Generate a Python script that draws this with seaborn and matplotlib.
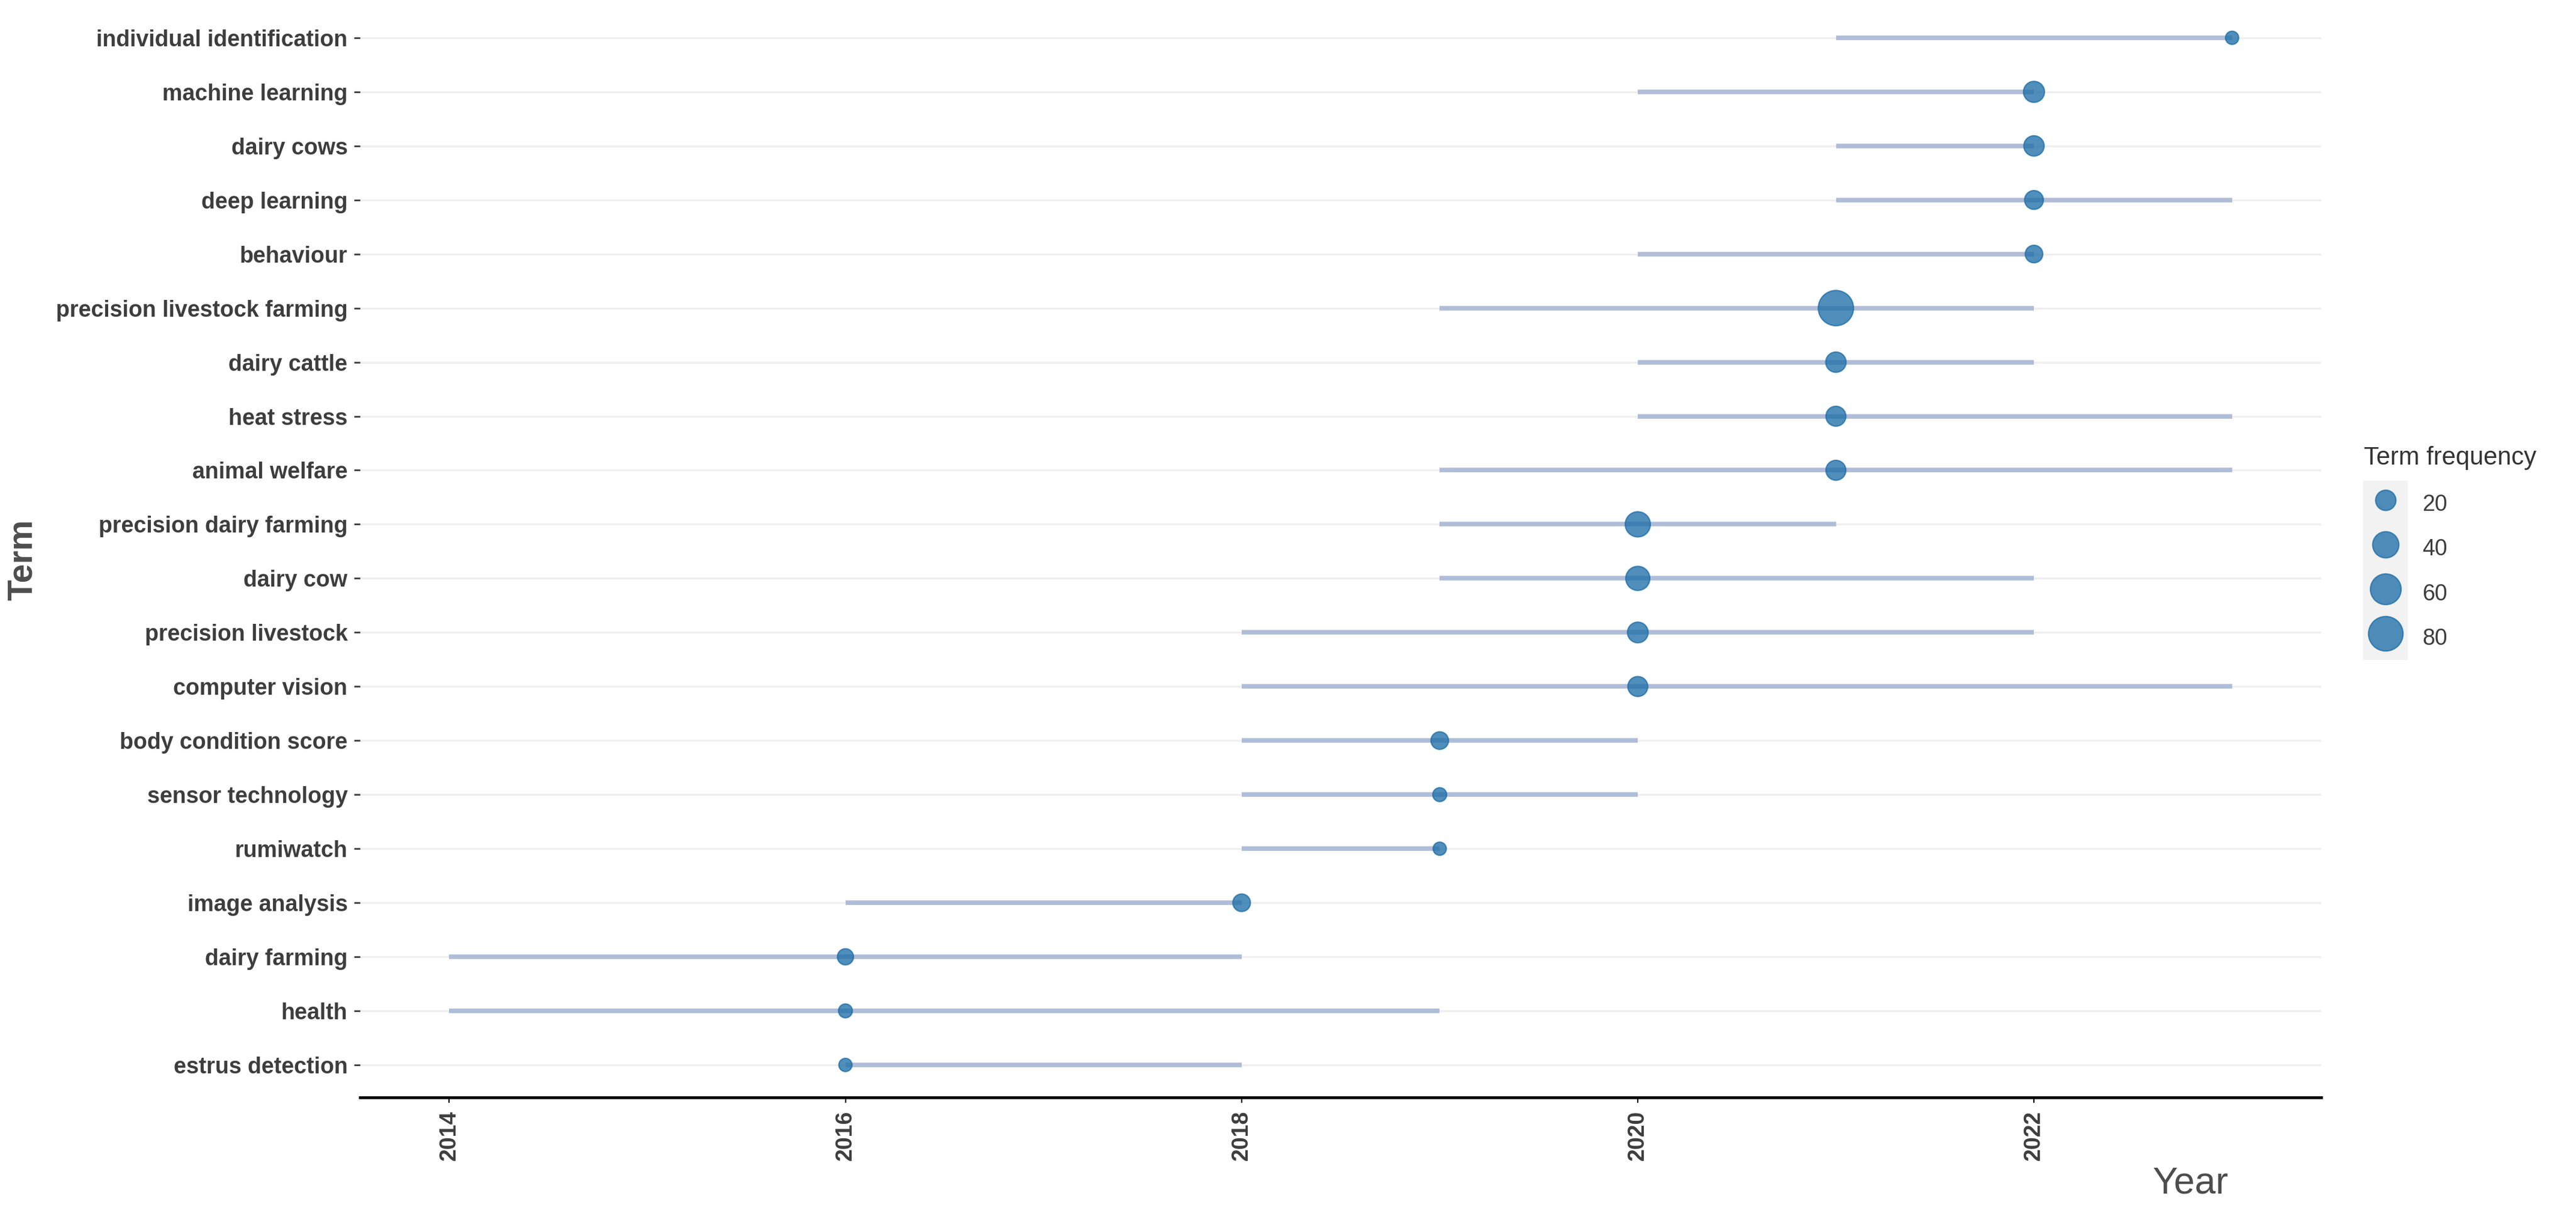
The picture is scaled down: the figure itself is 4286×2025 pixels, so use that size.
# Trend topics: term frequency over time (median year with q1-q3 span)
import numpy as np
import pandas as pd
import matplotlib.pyplot as plt
import seaborn as sns
from matplotlib.lines import Line2D
from matplotlib.patches import Rectangle

# data, listed top to bottom as in the chart
terms = ["individual identification", "machine learning", "dairy cows", "deep learning",
         "behaviour", "precision livestock farming", "dairy cattle", "heat stress",
         "animal welfare", "precision dairy farming", "dairy cow", "precision livestock",
         "computer vision", "body condition score", "sensor technology", "rumiwatch",
         "image analysis", "dairy farming", "health", "estrus detection"]
year_q1 = [2021, 2020, 2021, 2021, 2020, 2019, 2020, 2020, 2019, 2019,
           2019, 2018, 2018, 2018, 2018, 2018, 2016, 2014, 2014, 2016]
year_med = [2023, 2022, 2022, 2022, 2022, 2021, 2021, 2021, 2021, 2020,
            2020, 2020, 2020, 2019, 2019, 2019, 2018, 2016, 2016, 2016]
year_q3 = [2023, 2022, 2022, 2023, 2022, 2022, 2022, 2023, 2023, 2021,
           2022, 2022, 2023, 2020, 2020, 2019, 2018, 2018, 2019, 2018]
term_freq = [5, 22, 20, 16, 13, 84, 20, 19, 19, 36,
             32, 21, 19, 13, 6, 5, 13, 10, 6, 5]

legend_values = [20, 40, 60, 80]
x_ticks = [2014, 2016, 2018, 2020, 2022]

DPI = 100
POINT_COLOR = "#1F6FA8"
SEGMENT_COLOR = "#B0BDD8"
TEXT_COLOR = "#3D3D3D"


def marker_diam_pt(freq):
    # diameter grows with sqrt of frequency (area-like scale)
    diam_px = 10 + 5.3 * np.sqrt(freq)
    return diam_px / (DPI / 72)


df = pd.DataFrame({
    "term": terms,
    "q1": year_q1,
    "med": year_med,
    "q3": year_q3,
    "freq": term_freq,
})
df["pos"] = len(df) - 1 - np.arange(len(df))

sns.set_style("white")
plt.rcParams["font.family"] = ["Liberation Sans", "DejaVu Sans"]

fig = plt.figure(figsize=(42.86, 20.25), dpi=DPI)
ax = fig.add_axes([0.1398, 0.0983, 0.7613, 0.8973])

# quartile spans
ax.hlines(df["pos"], df["q1"], df["q3"], color=SEGMENT_COLOR, lw=5.5,
          capstyle="butt", zorder=2)

size_map = {f: marker_diam_pt(f) ** 2 for f in df["freq"].unique()}
sns.scatterplot(data=df, x="med", y="pos", size="freq", sizes=size_map,
                color=POINT_COLOR, alpha=0.78, edgecolor=POINT_COLOR,
                linewidth=1.6, legend=False, ax=ax, zorder=3)

ax.set_xlim(2013.55, 2023.45)
ax.set_ylim(-0.6, len(df) - 0.4)
ax.set_xticks(x_ticks)
ax.set_xticklabels([str(t) for t in x_ticks], rotation=90, fontsize=27,
                   fontweight="bold", color=TEXT_COLOR)
ax.set_yticks(df["pos"])
ax.set_yticklabels(df["term"], fontsize=27, fontweight="bold", color=TEXT_COLOR)
ax.set_xlabel("")
ax.set_ylabel("")

ax.yaxis.grid(True, color="#EFEFEF", lw=2.4)
ax.xaxis.grid(False)
ax.set_axisbelow(True)
for side in ["top", "right", "left"]:
    ax.spines[side].set_visible(False)
ax.spines["bottom"].set_color("black")
ax.spines["bottom"].set_linewidth(3.4)
ax.tick_params(axis="x", length=6.5, width=1.5, color="black", pad=9, bottom=True)
ax.tick_params(axis="y", length=7, width=2, color=TEXT_COLOR, pad=8, left=True)

fig.text(0.0089, 0.54, "Term", rotation=90, fontsize=41, fontweight="bold",
         color="#4D4D4D", ha="center", va="center")
fig.text(0.8505, 0.0277, "Year", fontsize=45, color="#4D4D4D",
         ha="center", va="center")

# size legend with grey key background
fig.text(0.9176, 0.6183, "Term frequency", fontsize=30, color="#333333",
         ha="left", va="baseline")
handles = [Line2D([], [], marker="o", ls="", markersize=marker_diam_pt(v),
                  markerfacecolor=POINT_COLOR, markeredgecolor=POINT_COLOR,
                  markeredgewidth=1.6, alpha=0.78) for v in legend_values]
fig.legend(handles, [str(v) for v in legend_values],
           loc="upper left", bbox_to_anchor=(0.9174, 0.598), frameon=False,
           fontsize=27, handlelength=1.95, handleheight=1.6,
           handletextpad=0.67, labelspacing=0.69, borderpad=0, borderaxespad=0,
           labelcolor=TEXT_COLOR)
fig.patches.append(Rectangle((0.9174, 0.4583), 0.0170, 0.1467,
                             transform=fig.transFigure, color="#F2F2F2", zorder=0))

fig.savefig("out.png", dpi=DPI)
